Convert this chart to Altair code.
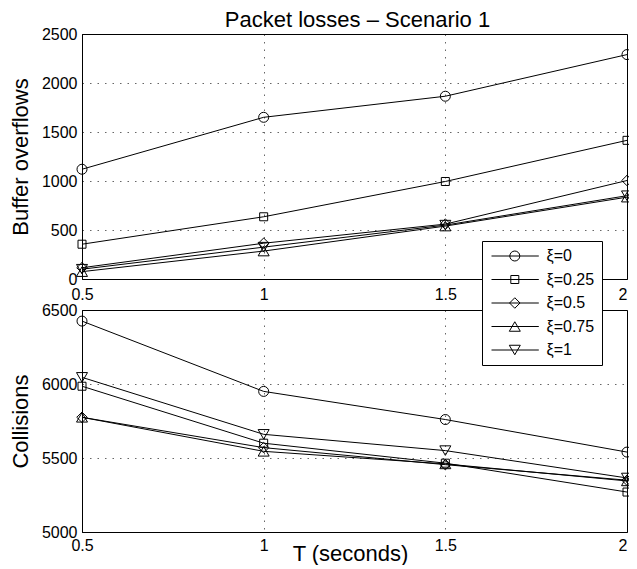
import altair as alt
import pandas as pd

# ---------------- data ----------------
T = [0.5, 1.0, 1.5, 2.0]
series = ["ξ=0", "ξ=0.25", "ξ=0.5", "ξ=0.75", "ξ=1"]

buffer_xi0 = [1120, 1650, 1865, 2290]
buffer_xi025 = [355, 635, 995, 1415]
buffer_xi05 = [115, 365, 560, 1005]
buffer_xi075 = [75, 285, 540, 835]
buffer_xi1 = [100, 325, 550, 850]

coll_xi0 = [6425, 5950, 5760, 5540]
coll_xi025 = [5985, 5600, 5465, 5270]
coll_xi05 = [5775, 5570, 5455, 5350]
coll_xi075 = [5775, 5545, 5460, 5345]
coll_xi1 = [6045, 5660, 5550, 5365]

buffer_ticks = [0, 500, 1000, 1500, 2000, 2500]
coll_ticks = [5000, 5500, 6000, 6500]


def long_table(values):
    rows = []
    for s, vals in zip(series, values):
        for t, v in zip(T, vals):
            rows.append({"T": t, "series": s, "value": v})
    return pd.DataFrame(rows)


buf_df = long_table([buffer_xi0, buffer_xi025, buffer_xi05, buffer_xi075, buffer_xi1])
col_df = long_table([coll_xi0, coll_xi025, coll_xi05, coll_xi075, coll_xi1])

# ---------------- styling ----------------
FONT = "Liberation Sans"
W = 545
H_TOP = 245
H_BOT = 222

shape_range = ["circle", "square", "diamond", "triangle-up", "triangle-down"]
size_range = [100, 64, 110, 121, 121]

m = 3.56  # marker centre (legend units, 1 unit = 5px)
L0, L1 = -1.1, 8.36
line = f"M{L0},0L{L1},0"
legend_paths = [
    line + f"M{m-1},0A1,1 0 1,0 {m+1},0A1,1 0 1,0 {m-1},0",
    line + f"M{m-0.8},-0.8L{m+0.8},-0.8L{m+0.8},0.8L{m-0.8},0.8Z",
    line + f"M{m},-1.05L{m+1.05},0L{m},1.05L{m-1.05},0Z",
    line + f"M{m},-0.95L{m+1.1},0.95L{m-1.1},0.95Z",
    line + f"M{m},0.95L{m+1.1},-0.95L{m-1.1},-0.95Z",
]

last_label_align = {"condition": {"test": "datum.value == 2", "value": "right"}, "value": "center"}


def x_enc(bottom):
    if bottom:
        ax = alt.Axis(values=T, format="~g", labelFlush=False, labelPadding=5,
                      labelAlign=last_label_align,
                      title="T (seconds)", titleX=268, titleY=28,
                      titleBaseline="alphabetic", titleAlign="center")
    else:
        ax = alt.Axis(values=T, format="~g", labelFlush=False, labelPadding=7,
                      labelAlign=last_label_align, title=None)
    return alt.X("T:Q", scale=alt.Scale(domain=[0.5, 2], nice=False, zero=False), axis=ax)


def y_enc(domain, ticks, title, h):
    return alt.Y("value:Q",
                 scale=alt.Scale(domain=domain, nice=False, zero=False),
                 axis=alt.Axis(values=ticks, format="d", title=title, labelPadding=5,
                               titleAngle=270, titleX=-55, titleY=h / 2,
                               titleBaseline="alphabetic", titleAlign="center"))


def panel(df, domain, ticks, ytitle, h, bottom):
    x = x_enc(bottom)
    y = y_enc(domain, ticks, ytitle, h)
    lines = alt.Chart(df).mark_line(color="black", strokeWidth=1).encode(
        x=x, y=y, detail="series:N")
    pts = alt.Chart(df).mark_point(filled=False, color="black", strokeWidth=1, opacity=1).encode(
        x=x, y=y,
        shape=alt.Shape("series:N", scale=alt.Scale(domain=series, range=shape_range), legend=None),
        size=alt.Size("series:N", scale=alt.Scale(type="ordinal", domain=series, range=size_range), legend=None),
    )
    layers = [lines, pts]
    if bottom:
        leg = alt.Chart(df).mark_point(filled=False, color="black", strokeWidth=1, opacity=1).encode(
            x=x, y=y,
            shape=alt.Shape("series:N",
                            scale=alt.Scale(domain=series, range=legend_paths),
                            legend=alt.Legend(title=None, orient="none", legendX=400, legendY=-69,
                                              fillColor="white", strokeColor="black", padding=7,
                                              symbolSize=100, symbolStrokeWidth=1,
                                              symbolStrokeColor="black", symbolFillColor="transparent",
                                              labelFontSize=16, labelFont=FONT, labelColor="black",
                                              labelOffset=41.5, rowPadding=7.5, labelLimit=200)),
        ).transform_filter("datum.value < 0")
        layers.append(leg)
    return alt.layer(*layers).resolve_scale(shape="independent", size="independent").properties(
        width=W, height=h)


top = panel(buf_df, [0, 2500], buffer_ticks, "Buffer overflows", H_TOP, False).properties(
    title=alt.TitleParams("Packet losses – Scenario 1", anchor="middle", frame="group",
                          offset=-6, dx=3))
bot = panel(col_df, [5000, 6500], coll_ticks, "Collisions", H_BOT, True)

chart = alt.vconcat(top, bot, spacing=31, bounds="flush").properties(
    padding={"left": 0, "top": 0, "right": -6, "bottom": 0}
).configure(font=FONT).configure_view(
    stroke="black", strokeWidth=1
).configure_axis(
    domainColor="black", domainWidth=1, ticks=False, grid=True,
    gridColor="black", gridDash=[1.5, 6], gridOpacity=0.6, gridWidth=1,
    labelFont=FONT, labelFontSize=16, labelColor="black",
    titleFont=FONT, titleFontSize=22, titleFontWeight="normal", titleColor="black",
).configure_title(font=FONT, fontSize=22, fontWeight="normal", color="black")

chart.save("out.html", embed_options={"renderer": "svg", "actions": False})
